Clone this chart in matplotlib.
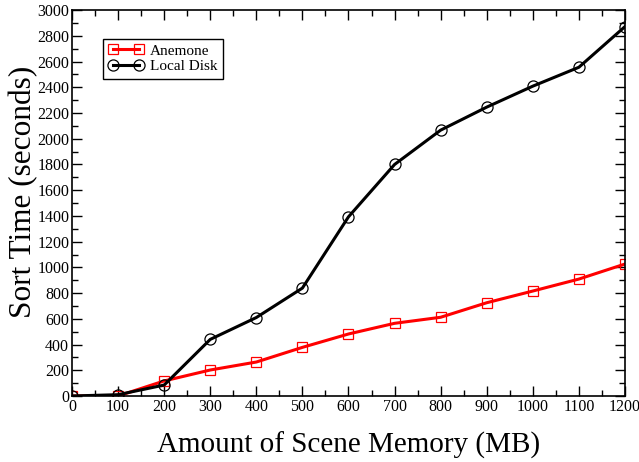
import matplotlib
matplotlib.use("Agg")
import matplotlib.pyplot as plt
from matplotlib.ticker import MultipleLocator

memory_mb = [0, 100, 200, 300, 400, 500, 600, 700, 800, 900, 1000, 1100, 1200]
anemone = [0, 0, 117, 202, 264, 378, 482, 565, 612, 725, 816, 909, 1026]
local_disk = [0, 10, 85, 440, 610, 839, 1393, 1800, 2067, 2246, 2409, 2556, 2872]

plt.rcParams['font.family'] = ['Liberation Serif', 'DejaVu Serif']

fig = plt.figure(figsize=(6.39, 4.62), dpi=100)
ax = fig.add_axes([0.1127, 0.1429, 0.978 - 0.1127, 0.978 - 0.1429])

ax.plot(memory_mb, anemone, color='red', lw=2.2, marker='s', markersize=7,
        markerfacecolor='none', markeredgecolor='red', markeredgewidth=0.9, label='Anemone')
ax.plot(memory_mb, local_disk, color='black', lw=2.2, marker='o', markersize=8,
        markerfacecolor='none', markeredgecolor='black', markeredgewidth=0.9, label='Local Disk')

ax.set_xlim(0, 1200)
ax.set_ylim(0, 3000)
ax.xaxis.set_major_locator(MultipleLocator(100))
ax.xaxis.set_minor_locator(MultipleLocator(50))
ax.yaxis.set_major_locator(MultipleLocator(200))
ax.yaxis.set_minor_locator(MultipleLocator(100))
ax.tick_params(which='both', direction='in', top=True, right=True, labelsize=11.5, pad=2)
ax.tick_params(which='major', length=7, width=1)
ax.tick_params(which='minor', length=4, width=1)
for s in ax.spines.values():
    s.set_linewidth(1.2)

ax.set_xlabel('Amount of Scene Memory (MB)', fontsize=21, labelpad=12)
ax.set_ylabel('Sort Time (seconds)', fontsize=22.5)
ax.yaxis.set_label_coords(-0.062, 0.53)

leg = ax.legend(loc='upper left', bbox_to_anchor=(0.056, 0.926), fontsize=11,
                fancybox=False, edgecolor='black', framealpha=1, handlelength=2.3,
                numpoints=2, borderpad=0.35, labelspacing=0.12, handletextpad=0.4,
                borderaxespad=0)
leg.get_frame().set_linewidth(1.0)

fig.savefig('out.png', dpi=100)
